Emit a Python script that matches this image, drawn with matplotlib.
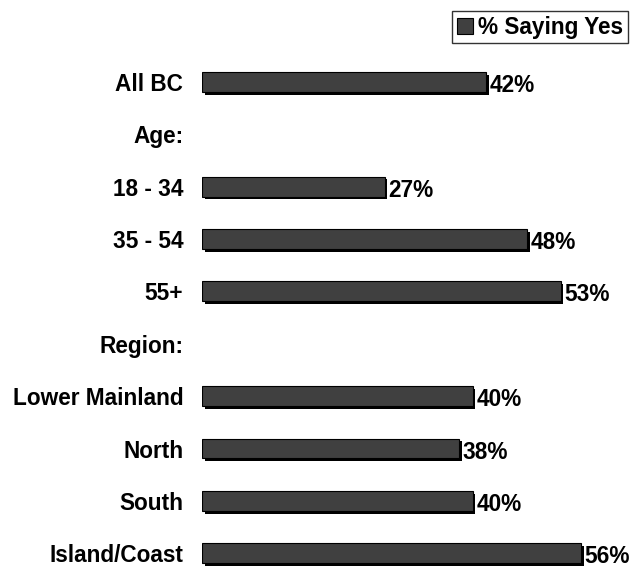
import matplotlib
matplotlib.use('Agg')
import matplotlib.pyplot as plt
import matplotlib.patheffects as pe
from matplotlib.patches import Patch

plt.rcParams['font.family'] = ['Liberation Sans', 'DejaVu Sans']
plt.rcParams['font.weight'] = 'bold'

# Survey rows, top to bottom; None marks a group heading with no bar
labels = ['All BC', 'Age:', '18 - 34', '35 - 54', '55+', 'Region:',
          'Lower Mainland', 'North', 'South', 'Island/Coast']
values = [42, None, 27, 48, 53, None, 40, 38, 40, 56]
series_name = '% Saying Yes'

BAR_COLOR = '#404040'
FS = 16.3

fig = plt.figure(figsize=(6.34, 5.69), dpi=100)
ax = fig.add_axes([202 / 634, 0.0, 406 / 634, 513.4 / 569])

shadow = [pe.SimplePatchShadow(offset=(2, -2), shadow_rgbFace='black', alpha=1.0),
          pe.Normal()]

for i, v in enumerate(values):
    if v is None:
        continue
    bar = ax.barh(i, v, height=0.38, color=BAR_COLOR, edgecolor='black',
                  linewidth=0.8)
    bar[0].set_path_effects(shadow)
    ax.annotate(f'{v}%', xy=(v, i), xytext=(2.5, -0.8), textcoords='offset points',
                va='center_baseline', ha='left', fontsize=FS, fontweight='bold')

ax.set_xlim(0, 60)
ax.set_ylim(9.3, -0.5)
ax.set_yticks(range(len(labels)))
ax.set_yticklabels(labels, fontsize=FS, fontweight='bold')
ax.tick_params(axis='y', length=0, pad=13.5)
ax.set_xticks([])
for s in ax.spines.values():
    s.set_visible(False)

handle = Patch(facecolor=BAR_COLOR, edgecolor='black', linewidth=0.8)
leg = fig.legend([handle], [series_name], loc='upper right',
                 bbox_to_anchor=(628 / 634, 1 - 11 / 569),
                 fontsize=FS, frameon=True, fancybox=False,
                 handlelength=0.7, handleheight=0.7, handletextpad=0.25,
                 borderpad=0.2, borderaxespad=0)
leg.get_frame().set_edgecolor('black')
leg.get_frame().set_linewidth(1.0)
for t in leg.get_texts():
    t.set_fontweight('bold')

fig.savefig('out.png', dpi=100)
